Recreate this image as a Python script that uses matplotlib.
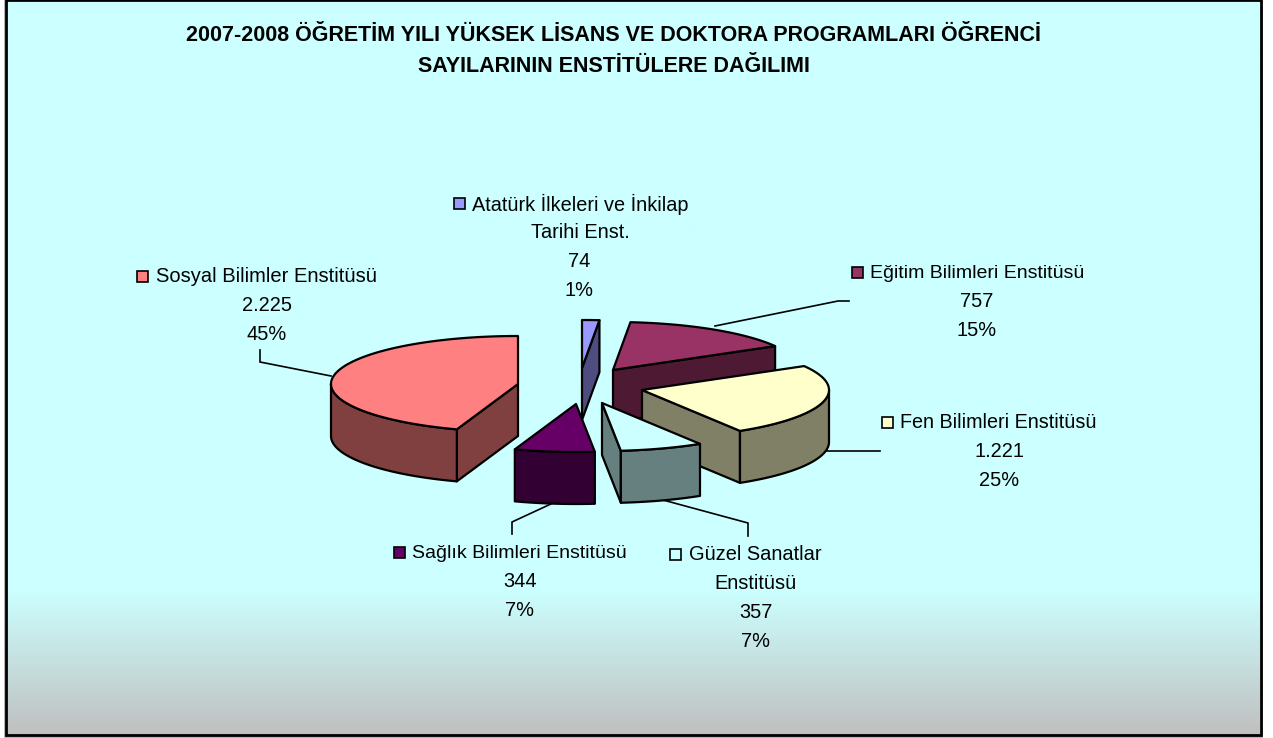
import numpy as np
import matplotlib
matplotlib.use("Agg")
from matplotlib import pyplot as plt
from matplotlib.colors import LinearSegmentedColormap
from matplotlib.patches import Polygon, Rectangle

# values
names = ["Atatürk İlkeleri ve İnkilap\nTarihi Enst.", "Eğitim Bilimleri Enstitüsü", "Fen Bilimleri Enstitüsü",
         "Güzel Sanatlar\nEnstitüsü", "Sağlık Bilimleri Enstitüsü", "Sosyal Bilimler Enstitüsü"]
students = [74, 757, 1221, 357, 344, 2225]
shown = ["74", "757", "1.221", "357", "344", "2.225"]
percents = ["1%", "15%", "25%", "7%", "7%", "45%"]
top_colors = ["#9999FF", "#993366", "#FFFFCC", "#CCFFFF", "#660066", "#FF8080"]
side_colors = ["#4D4D80", "#4D1933", "#808066", "#668080", "#330033", "#804040"]

title = "2007-2008 ÖĞRETİM YILI YÜKSEK LİSANS VE DOKTORA PROGRAMLARI ÖĞRENCİ\nSAYILARININ ENSTİTÜLERE DAĞILIMI"

W, H = 1273, 738
plt.rcParams["font.family"] = ["Liberation Sans", "DejaVu Sans"]

fig = plt.figure(figsize=(W / 100, H / 100), dpi=100, facecolor="white")
ax = fig.add_axes([0, 0, 1, 1])

# background gradient, light cyan fading to grey near the bottom
cmap = LinearSegmentedColormap.from_list("bg", [(0, "#CCFFFF"), (0.805, "#CCFFFF"), (1, "#C0C0C0")])
grad = np.linspace(0, 1, 400).reshape(-1, 1)
ax.imshow(grad, cmap=cmap, extent=(5, 1260, 735, 0), aspect="auto", zorder=0)
ax.set_xlim(0, W)
ax.set_ylim(H, 0)
ax.axis("off")
ax.add_patch(Rectangle((4.5, -2), 1257.5, 738.5, fill=False, ec="#A6A6A6", lw=1.2, zorder=0.5))
ax.add_patch(Rectangle((5.5, 0), 1255, 735, fill=False, ec="black", lw=2, zorder=1))

# pie geometry in pixels
a, b, depth = 187, 48, 52
apex = [(582, 368), (613, 370), (642, 390), (602, 403), (576, 404), (518, 384)]
draw_order = [0, 1, 2, 5, 4, 3]


def rim(cx, cy, t0, t1):
    t = np.radians(np.linspace(t0, t1, max(int(t1 - t0) * 2, 2)))
    return np.column_stack([cx + a * np.sin(t), cy - b * np.cos(t)])


shares = np.array(students) / sum(students) * 360
ends = np.cumsum(shares)
starts = ends - shares
lw = 1.6

for i in draw_order:
    cx, cy = apex[i]
    t0, t1 = starts[i], ends[i]
    down = np.array([0, depth])
    # flat side along the start or end radius, only when it faces the viewer
    for t, visible in ((t0, 180 < t0 < 360), (t1, 0 < t1 < 180)):
        if visible:
            p = rim(cx, cy, t, t + 0.01)[0]
            pts = [(cx, cy), p, p + down, (cx, cy + depth)]
            ax.add_patch(Polygon(pts, fc=side_colors[i], ec="black", lw=lw, joinstyle="round", zorder=2))
    # outer wall
    lo, hi = max(t0, 90), min(t1, 270)
    if lo < hi:
        arc = rim(cx, cy, lo, hi)
        pts = np.vstack([arc, (arc + down)[::-1]])
        ax.add_patch(Polygon(pts, fc=side_colors[i], ec="black", lw=lw, joinstyle="round", zorder=2))
    # top face
    pts = np.vstack([[(cx, cy)], rim(cx, cy, t0, t1)])
    ax.add_patch(Polygon(pts, fc=top_colors[i], ec="black", lw=lw, joinstyle="round", zorder=2))

# leader lines
leaders = [
    [(260, 350), (260, 362), (331, 376)],
    [(849, 301), (838, 301), (715, 326)],
    [(825, 451), (880, 451)],
    [(663, 500), (748, 523), (748, 536)],
    [(553, 503), (512, 522), (512, 534)],
]
for line in leaders:
    xs, ys = zip(*line)
    ax.plot(xs, ys, color="black", lw=1.2, zorder=1.5, solid_joinstyle="miter")

# data labels: name centre, number centre, first line y, legend key x
name_x = [580, 977, 998, 755, 519.5, 266]
value_x = [579, 977, 999, 756, 520, 267]
label_y = [204, 273, 423, 555, 553, 277]
key_x = [459, 857, 887, 675, 399.5, 142]
name_fs = [14.3, 14.0, 14.2, 14.4, 14.0, 14.5]
fs = 14.4
line_h = 28.8
for i in range(len(names)):
    split = names[i].split("\n")
    y = label_y[i]
    for k, s in enumerate(split):
        ax.text(name_x[i], y + k * line_h, s, ha="center", va="center", fontsize=name_fs[i], color="black", zorder=3)
    for k, s in enumerate([shown[i], percents[i]]):
        ax.text(value_x[i], y + (len(split) + k) * line_h, s, ha="center", va="center", fontsize=fs,
                color="black", zorder=3)
    ax.add_patch(Rectangle((key_x[i] - 5.5, y - 6.5), 11, 11, fc=top_colors[i], ec="black", lw=1.2, zorder=3))

ax.text(614, 51, title, ha="center", va="center", fontsize=15.5, fontweight="bold", color="black",
        linespacing=1.6, zorder=3)

plt.savefig("out.png", dpi=100)
